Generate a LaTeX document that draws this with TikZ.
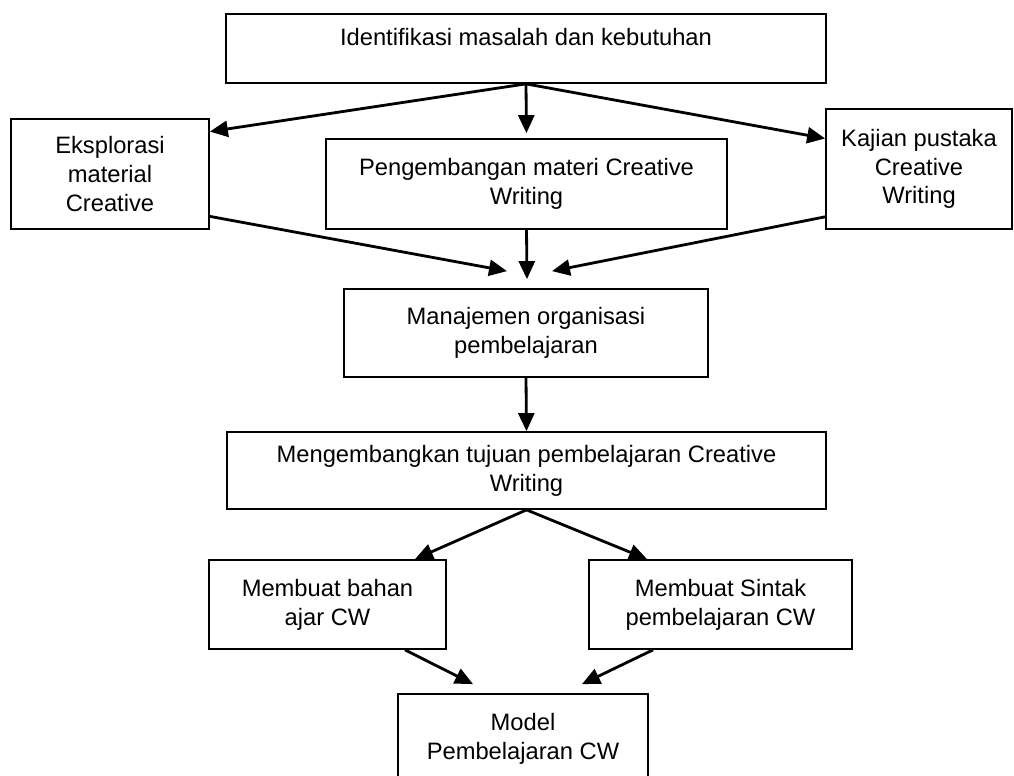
\documentclass[tikz,border=0pt]{standalone}
\usepackage{fontspec}
\setmainfont{Liberation Sans}
\usetikzlibrary{arrows.meta}
\tikzset{
  box/.style={draw, line width=1pt, align=center, inner sep=2pt, font=\fontsize{13.5}{16.4}\selectfont},
  arr/.style={line width=1.6pt, -{Triangle[length=0.36cm,width=0.32cm]}}
}
\begin{document}
\begin{tikzpicture}[x=0.02cm, y=-0.02cm]
  \useasboundingbox (0,0) rectangle (1014,776);
  \clip (0,0) rectangle (1014,776);
  \node[box, minimum width=12cm, minimum height=1.38cm, text height=0.35cm, text depth=0.45cm] (id) at (526,48.5) {Identifikasi masalah dan kebutuhan};
  \node[box, minimum width=3.96cm, minimum height=2.2cm] (eks) at (110,174) {Eksplorasi\\ material\\ Creative};
  \node[box, minimum width=8.02cm, minimum height=1.8cm] (peng) at (526.5,184) {Pengembangan materi Creative\\ Writing};
  \node[box, minimum width=3.72cm, minimum height=2.4cm] (kaj) at (919,169) {Kajian pustaka\\ Creative\\ Writing};
  \node[box, minimum width=7.28cm, minimum height=1.76cm] (man) at (526,333) {Manajemen organisasi\\ pembelajaran};
  \node[box, minimum width=11.98cm, minimum height=1.54cm] (tuj) at (526.5,470.5) {Mengembangkan tujuan pembelajaran Creative\\ Writing};
  \node[box, minimum width=4.74cm, minimum height=1.78cm] (bah) at (327.5,604.5) {Membuat bahan\\ ajar CW};
  \node[box, minimum width=5.26cm, minimum height=1.78cm] (sin) at (720.5,604.5) {Membuat Sintak\\ pembelajaran CW};
  \node[box, minimum width=5cm, minimum height=1.78cm] (mod) at (523,738.5) {Model\\ Pembelajaran CW};
  \draw[arr] (id.south) -- (eks.23);
  \draw[arr, shorten >=0.1cm] (id.south) -- (peng.north);
  \draw[arr] (id.south) -- (kaj.162);
  \draw[arr] (eks.-23) -- ([shift={(-19,-17)}]man.north);
  \draw[arr] (peng.south) -- ([shift={(1,-9)}]man.north);
  \draw[arr] (kaj.207) -- ([shift={(26,-17)}]man.north);
  \draw[arr] (man.south) -- (tuj.north);
  \draw[arr] (tuj.south) -- ([shift={(87.5,0)}]bah.north);
  \draw[arr] (tuj.south) -- ([shift={(-73.5,0)}]sin.north);
  \draw[arr] ([shift={(77.5,0)}]bah.south) -- ([shift={(-50,-9)}]mod.north);
  \draw[arr] ([shift={(-67.5,0)}]sin.south) -- ([shift={(59,-9)}]mod.north);
\end{tikzpicture}
\end{document}
